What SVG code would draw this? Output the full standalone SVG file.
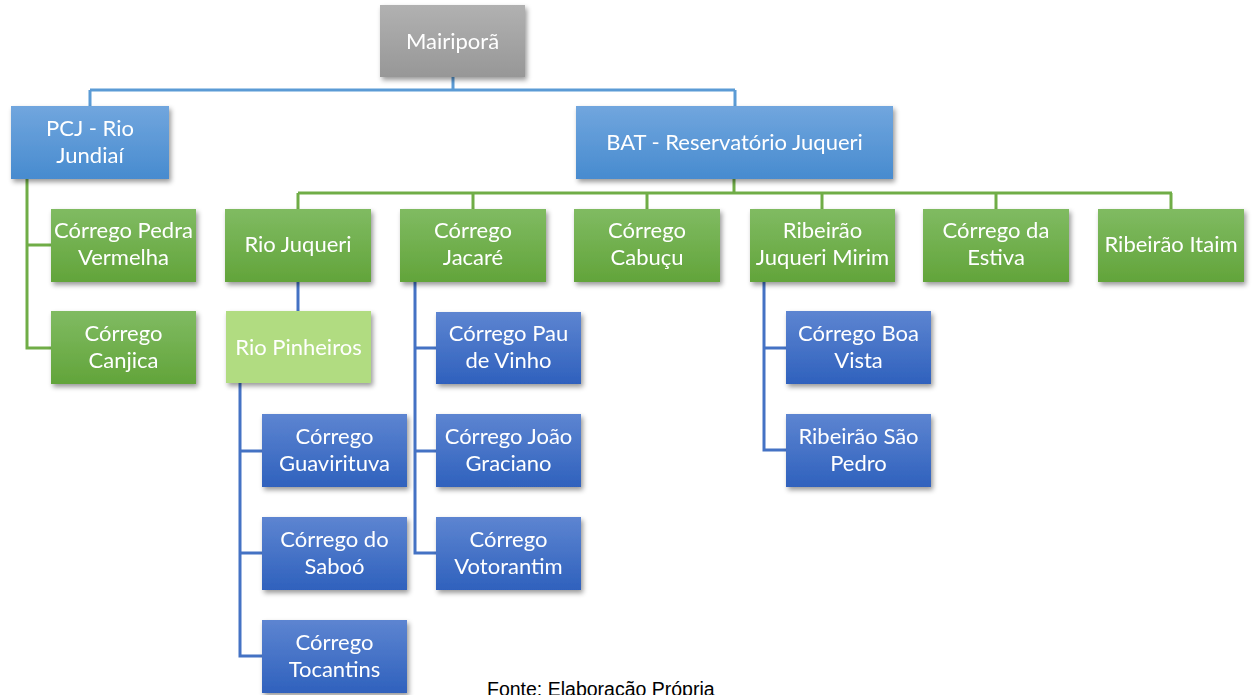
<svg xmlns="http://www.w3.org/2000/svg" width="1252" height="695" viewBox="0 0 1252 695">
<defs>
<linearGradient id="gGray" x1="0" y1="0" x2="0" y2="1"><stop offset="0" stop-color="#b1b1b1"/><stop offset="1" stop-color="#979797"/></linearGradient>
<linearGradient id="gBlue1" x1="0" y1="0" x2="0" y2="1"><stop offset="0" stop-color="#71a6de"/><stop offset="1" stop-color="#478bcf"/></linearGradient>
<linearGradient id="gGreen" x1="0" y1="0" x2="0" y2="1"><stop offset="0" stop-color="#80bb62"/><stop offset="1" stop-color="#62a43a"/></linearGradient>
<linearGradient id="gBlue2" x1="0" y1="0" x2="0" y2="1"><stop offset="0" stop-color="#5d85d1"/><stop offset="1" stop-color="#2f61bd"/></linearGradient>
<filter id="sh" x="-10%" y="-10%" width="130%" height="140%"><feDropShadow dx="2" dy="3" stdDeviation="2.5" flood-color="#000" flood-opacity="0.4"/></filter>
</defs>
<style>
.box{filter:url(#sh)}
.gray{fill:url(#gGray)}
.b1{fill:url(#gBlue1)}
.gr{fill:url(#gGreen)}
.lg{fill:#b1dc81}
.b2{fill:url(#gBlue2)}
text.t{font-family:Lato,"Open Sans",sans-serif;font-size:22px;fill:#fff;text-anchor:middle}
.lb{stroke:#5b9bd5;stroke-width:3;fill:none}
.lgn{stroke:#70ad47;stroke-width:3;fill:none}
.ld{stroke:#4472c4;stroke-width:3;fill:none}
</style>
<g id="connectors">
<path class="lb" d="M453 77V90M90 90H735M90 90V106M735 90V106"/>
<path class="lgn" d="M734 179V193M298 193H1172M298 193V209M473 193V209M647 193V209M822 193V209M996 193V209M1171 193V209"/>
<path class="lgn" d="M27 179V348H51M27 245H51"/>
<path class="ld" d="M298 282V311"/>
<path class="ld" d="M240 383V656H262M240 451H262M240 553H262"/>
<path class="ld" d="M415 282V553H436M415 348H436M415 451H436"/>
<path class="ld" d="M764 282V450H786M764 348H786"/>
</g>
<g id="n-mairipora" class="box"><rect class="gray" x="380" y="5" width="145" height="72"/><text class="t" x="452.5" y="49">Mairiporã</text></g>
<g id="n-pcj" class="box"><rect class="b1" x="11" y="106" width="158" height="73"/><text class="t" x="90" y="136">PCJ - Rio</text><text class="t" x="90" y="163">Jundiaí</text></g>
<g id="n-bat" class="box"><rect class="b1" x="576" y="106" width="317" height="73"/><text class="t" x="734.5" y="150">BAT - Reservatório Juqueri</text></g>
<g id="n-pedra" class="box"><rect class="gr" x="51" y="209" width="145" height="73"/><text class="t" x="123.5" y="238">Córrego Pedra</text><text class="t" x="123.5" y="265">Vermelha</text></g>
<g id="n-canjica" class="box"><rect class="gr" x="51" y="311" width="145" height="73"/><text class="t" x="123.5" y="341">Córrego</text><text class="t" x="123.5" y="368">Canjica</text></g>
<g id="n-juqueri" class="box"><rect class="gr" x="225" y="209" width="146" height="73"/><text class="t" x="298" y="252">Rio Juqueri</text></g>
<g id="n-jacare" class="box"><rect class="gr" x="400" y="209" width="146" height="73"/><text class="t" x="473" y="238">Córrego</text><text class="t" x="473" y="265">Jacaré</text></g>
<g id="n-cabucu" class="box"><rect class="gr" x="574" y="209" width="146" height="73"/><text class="t" x="647" y="238">Córrego</text><text class="t" x="647" y="265">Cabuçu</text></g>
<g id="n-jmirim" class="box"><rect class="gr" x="750" y="209" width="145" height="73"/><text class="t" x="822.5" y="238">Ribeirão</text><text class="t" x="822.5" y="265">Juqueri Mirim</text></g>
<g id="n-estiva" class="box"><rect class="gr" x="923" y="209" width="146" height="73"/><text class="t" x="996" y="238">Córrego da</text><text class="t" x="996" y="265">Estiva</text></g>
<g id="n-itaim" class="box"><rect class="gr" x="1098" y="209" width="146" height="73"/><text class="t" x="1171" y="252">Ribeirão Itaim</text></g>
<g id="n-pinheiros" class="box"><rect class="lg" x="226" y="311" width="145" height="72"/><text class="t" x="298.5" y="355">Rio Pinheiros</text></g>
<g id="n-guavirituva" class="box"><rect class="b2" x="262" y="414" width="145" height="73"/><text class="t" x="334.5" y="444">Córrego</text><text class="t" x="334.5" y="471">Guavirituva</text></g>
<g id="n-saboo" class="box"><rect class="b2" x="262" y="517" width="145" height="73"/><text class="t" x="334.5" y="547">Córrego do</text><text class="t" x="334.5" y="574">Saboó</text></g>
<g id="n-tocantins" class="box"><rect class="b2" x="262" y="620" width="145" height="73"/><text class="t" x="334.5" y="650">Córrego</text><text class="t" x="334.5" y="677">Tocantins</text></g>
<g id="n-pauvinho" class="box"><rect class="b2" x="436" y="312" width="145" height="72"/><text class="t" x="508.5" y="341">Córrego Pau</text><text class="t" x="508.5" y="368">de Vinho</text></g>
<g id="n-joao" class="box"><rect class="b2" x="436" y="414" width="145" height="73"/><text class="t" x="508.5" y="444">Córrego João</text><text class="t" x="508.5" y="471">Graciano</text></g>
<g id="n-votorantim" class="box"><rect class="b2" x="436" y="517" width="145" height="73"/><text class="t" x="508.5" y="547">Córrego</text><text class="t" x="508.5" y="574">Votorantim</text></g>
<g id="n-boavista" class="box"><rect class="b2" x="786" y="311" width="145" height="73"/><text class="t" x="858.5" y="341">Córrego Boa</text><text class="t" x="858.5" y="368">Vista</text></g>
<g id="n-saopedro" class="box"><rect class="b2" x="786" y="414" width="145" height="73"/><text class="t" x="858.5" y="444">Ribeirão São</text><text class="t" x="858.5" y="471">Pedro</text></g>
<text x="487" y="696" font-family="Liberation Sans,Arial,sans-serif" font-size="19.5" fill="#000">Fonte: Elaboração Própria</text>
</svg>
